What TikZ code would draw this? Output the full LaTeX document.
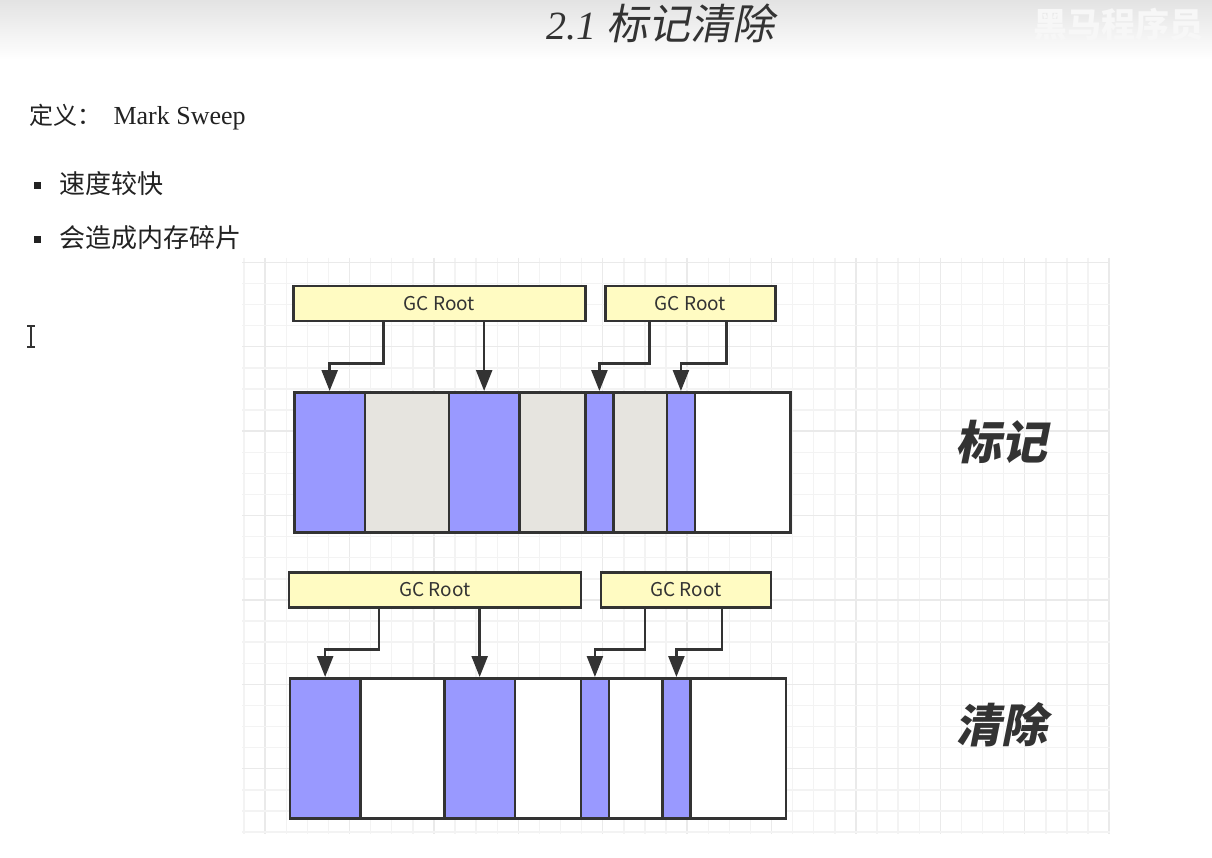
\documentclass[tikz,border=0pt]{standalone}
\usepackage{fontspec}
\setmainfont{Liberation Serif}
\newfontfamily\cjk{Noto Sans CJK SC}
\newfontfamily\cjkit{Noto Sans CJK SC}[FakeSlant=0.2]
\usetikzlibrary{arrows.meta}

\definecolor{ink}{HTML}{333333}
\definecolor{textc}{HTML}{222222}
\definecolor{live}{HTML}{9999FF}
\definecolor{dead}{HTML}{E6E4DF}
\definecolor{rootfill}{HTML}{FFFBC2}
\definecolor{gridminor}{HTML}{F3F3F3}
\definecolor{gridmajor}{HTML}{EAEAEA}

\tikzset{
  cell/.style={draw=ink, line width=2.8pt, minimum height=140pt, inner sep=0pt, anchor=north west},
  root/.style={draw=ink, fill=rootfill, line width=2.5pt, minimum height=35pt, inner sep=0pt,
               anchor=north west, text=ink, font=\cjk\fontsize{19}{22}\selectfont},
  ref/.style={draw=ink, line width=2.5pt, -{Triangle[length=21pt,width=16pt]}},
  phase/.style={text=ink, font=\cjkit\bfseries\fontsize{46}{50}\selectfont},
  bullet/.style={fill=textc, minimum size=7pt, inner sep=0pt},
  item/.style={anchor=west, text=textc, font=\cjk\fontsize{26}{30}\selectfont},
}

% One heap row: cells, the two GC root boxes and their references.
% #1 = name prefix, #2 = fill of the unreachable cells
\newcommand\heaprow[2]{%
  \foreach \n/\l/\r/\f in {1/293/363.5/live, 2/363.5/447.5/#2, 3/447.5/518/live,
      4/518/584/#2, 5/584/612/live, 6/612/665.5/#2, 7/665.5/693.5/live, 8/693.5/789/white}
    \node[cell, fill=\f, minimum width=\r-\l] (#1\n) at (\l,391) {};
  \node[root, minimum width=292pt] (#1ra) at (292,285) {GC Root};
  \node[root, minimum width=170pt] (#1rb) at (604,285) {GC Root};
  \draw[ref] ([xshift=-56pt]#1ra.south) -- ++(0,41) -| (#11.north);
  \draw[ref] (#1ra.south -| #13.north) -- (#13.north);
  \draw[ref] ([xshift=-41pt]#1rb.south) -- ++(0,41) -| (#15.north);
  \draw[ref] ([xshift=36pt]#1rb.south) -- ++(0,41) -| (#17.north);
}

\begin{document}
\begin{tikzpicture}[x=1pt, y=-1pt]
  \useasboundingbox (0,0) rectangle (1212,858);
  \fill[white] (0,0) rectangle (1212,858);
  \shade[top color=black!11, bottom color=white] (0,0) rectangle (1212,60);

  % watermark and title
  \node[anchor=west, text=white!97!black, font=\cjk\bfseries\fontsize{34}{36}\selectfont] (mark) at (1030,25) {黑马程序员};
  \node[text=ink] (title) at (660,23)
    {{\itshape\fontsize{40}{42}\selectfont 2.1 }{\cjkit\fontsize{42}{44}\selectfont 标记清除}};

  % definition and bullet points
  \node[anchor=west, text=textc] (def) at (26,117)
    {{\cjk\fontsize{24}{28}\selectfont 定义：}\hspace{12pt}{\fontsize{26}{30}\selectfont Mark Sweep}};
  \node[bullet] (p1) at (37,186) {};
  \node[item] (t1) at (56,184) {速度较快};
  \node[bullet] (p2) at (37,240) {};
  \node[item] (t2) at (56,238) {会造成内存碎片};

  % text cursor
  \draw[black!80, line width=1.2pt] (31,326) -- (31,347) (27,326) -- (35,326) (27,347) -- (35,347);

  % background grid
  \foreach \i in {0,...,41}{
    \pgfmathtruncatemacro\m{mod(\i,4)}
    \ifnum\m=1 \def\gc{gridmajor}\else\def\gc{gridminor}\fi
    \draw[\gc, line width=1.4pt] (244+21.1*\i,258) -- (244+21.1*\i,834);
  }
  \foreach \j in {0,...,27}{
    \pgfmathtruncatemacro\m{mod(\j,4)}
    \ifnum\m=0 \def\gc{gridmajor}\else\def\gc{gridminor}\fi
    \draw[\gc, line width=1.4pt] (242,262.3+21.1*\j) -- (1110,262.3+21.1*\j);
  }

  % marking phase
  \heaprow{m}{dead}
  \node[phase] (lm) at (1001,442) {标记};

  % sweeping phase
  \begin{scope}[shift={(-4.5,286)}]
    \heaprow{s}{white}
  \end{scope}
  \node[phase] (ls) at (1001,725) {清除};
\end{tikzpicture}
\end{document}
